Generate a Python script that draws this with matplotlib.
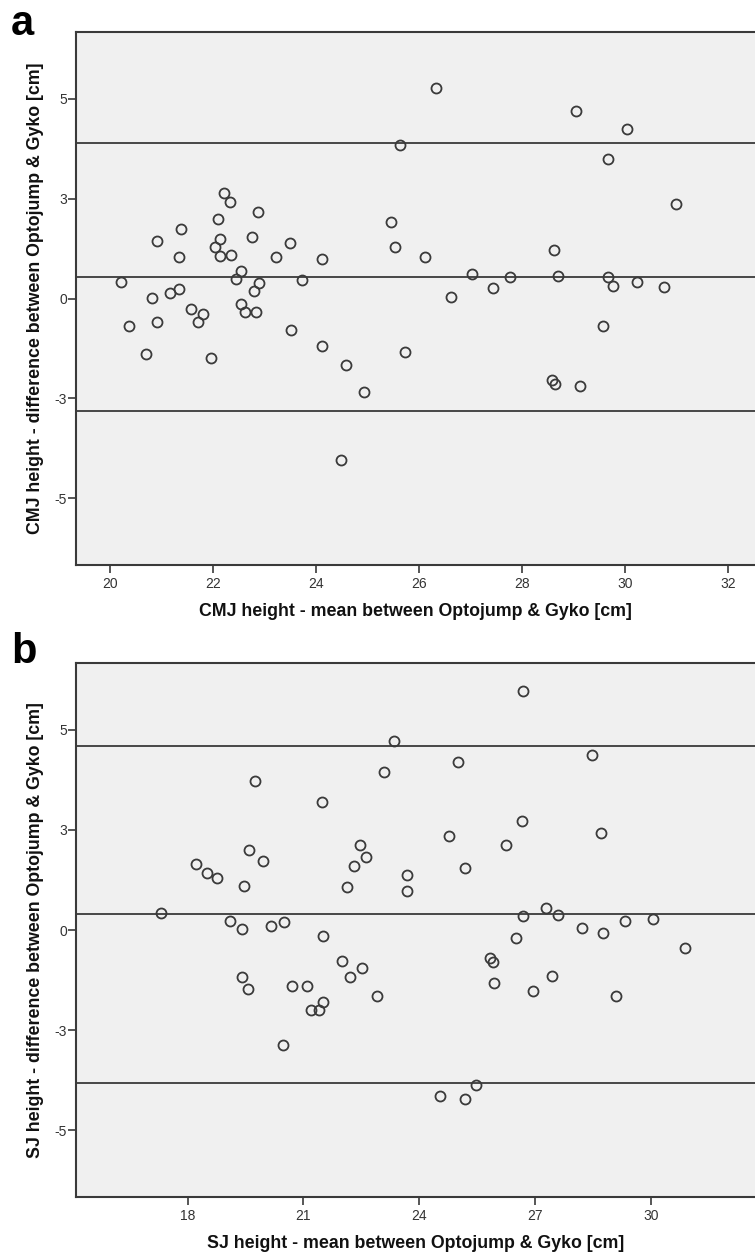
import matplotlib
matplotlib.use("Agg")
import matplotlib.pyplot as plt

plt.rcParams['font.family'] = ['Liberation Sans', 'DejaVu Sans']

# ---------------- Panel a: CMJ ----------------
cmj_mean = [20.21, 20.92, 21.38, 21.33, 20.81, 21.17, 21.33, 22.21, 22.32, 22.88,
            22.10, 22.14, 22.76, 23.49, 22.04, 22.14, 22.34, 23.22, 24.11, 22.54,
            22.44, 22.90, 23.73, 22.80, 21.57, 21.81, 22.54, 22.63, 22.83, 20.36,
            20.91, 20.70, 21.71, 21.96, 23.51, 24.11, 24.58, 24.93, 24.48, 26.33,
            25.63, 29.05, 30.03, 29.66, 30.98, 25.46, 25.54, 26.12, 28.61, 27.02,
            27.77, 28.69, 29.67, 29.77, 30.22, 30.76, 26.62, 27.43, 25.73, 29.56,
            28.58, 28.64, 29.13]
cmj_diff = [0.41, 1.44, 1.75, 1.04, 0.02, 0.13, 0.24, 2.63, 2.42, 2.17,
            2.00, 1.48, 1.53, 1.38, 1.28, 1.07, 1.08, 1.04, 1.00, 0.69,
            0.48, 0.40, 0.46, 0.18, -0.27, -0.38, -0.14, -0.34, -0.34, -0.69,
            -0.59, -1.39, -0.58, -1.48, -0.80, -1.19, -1.66, -2.35, -4.04, 5.26,
            3.85, 4.70, 4.25, 3.50, 2.36, 1.91, 1.28, 1.03, 1.21, 0.62,
            0.53, 0.57, 0.53, 0.32, 0.41, 0.30, 0.03, 0.26, -1.35, -0.69,
            -2.04, -2.15, -2.18]
cmj_lines = [3.89, 0.54, -2.81]   # upper LoA, mean bias, lower LoA
cmj_xticks = [20, 22, 24, 26, 28, 30, 32]
cmj_xlim = (19.34, 32.52)

# ---------------- Panel b: SJ ----------------
sj_mean = [17.30, 18.22, 18.51, 18.76, 19.45, 19.60, 19.95, 19.76, 21.49, 22.46,
           22.61, 22.30, 22.13, 19.10, 19.41, 20.15, 20.49, 21.50, 26.69, 23.36,
           23.08, 25.00, 28.48, 26.67, 28.72, 24.78, 26.26, 25.18, 23.69, 23.68,
           26.69, 27.28, 27.59, 28.23, 28.77, 29.33, 30.05, 19.41, 19.56, 20.70,
           21.10, 21.50, 21.19, 21.40, 20.46, 22.01, 22.20, 22.52, 22.90, 26.51,
           25.84, 25.90, 25.94, 26.94, 27.44, 29.09, 30.89, 24.54, 25.20, 25.46]
sj_diff = [0.42, 1.64, 1.42, 1.31, 1.11, 2.01, 1.72, 3.73, 3.20, 2.13,
           1.83, 1.61, 1.07, 0.23, 0.03, 0.11, 0.21, -0.15, 5.98, 4.72,
           3.95, 4.19, 4.36, 2.73, 2.43, 2.35, 2.12, 1.55, 1.38, 0.97,
           0.36, 0.55, 0.38, 0.05, -0.07, 0.23, 0.27, -1.17, -1.47, -1.39,
           -1.39, -1.79, -2.00, -2.00, -2.88, -0.78, -1.18, -0.96, -1.65, -0.20,
           -0.70, -0.81, -1.33, -1.53, -1.14, -1.65, -0.44, -4.15, -4.21, -3.88]
sj_lines = [4.60, 0.39, -3.81]
sj_xticks = [18, 21, 24, 27, 30]
sj_xlim = (15.11, 32.70)

# shared y axis
ytick_values = [5, 2.5, 0, -2.5, -5]
ytick_labels = ["5", "3", "0", "-3", "-5"]
ylim = (-6.67, 6.67)

W, H = 755, 1253
fig = plt.figure(figsize=(W / 100, H / 100), dpi=100)

dark = '#3a3a3a'
face = '#f0f0f0'

def px_axes(left, top, right, bottom):
    return [left / W, 1 - bottom / H, (right - left) / W, (bottom - top) / H]

panels = [
    dict(rect=px_axes(76, 32, 755, 565), x=cmj_mean, y=cmj_diff, lines=cmj_lines,
         xticks=cmj_xticks, xlim=cmj_xlim,
         xlabel="CMJ height - mean between Optojump & Gyko [cm]",
         ylabel="CMJ height - difference between Optojump & Gyko [cm]",
         letter="a", letter_pos=(11, 35)),
    dict(rect=px_axes(76, 663, 755, 1197), x=sj_mean, y=sj_diff, lines=sj_lines,
         xticks=sj_xticks, xlim=sj_xlim,
         xlabel="SJ height - mean between Optojump & Gyko [cm]",
         ylabel="SJ height - difference between Optojump & Gyko [cm]",
         letter="b", letter_pos=(11, 663)),
]

for p in panels:
    ax = fig.add_axes(p['rect'])
    ax.set_facecolor(face)
    for yv in p['lines']:
        ax.axhline(yv, color=dark, lw=1.3, zorder=2)
    ax.plot(p['x'], p['y'], linestyle='none', marker='o', markersize=7.2,
            markerfacecolor='none', markeredgecolor=dark, markeredgewidth=1.3,
            zorder=3, clip_on=False)
    ax.set_xlim(*p['xlim'])
    ax.set_ylim(*ylim)
    ax.set_xticks(p['xticks'])
    ax.set_xticklabels([str(t) for t in p['xticks']])
    ax.set_yticks(ytick_values)
    ax.set_yticklabels(ytick_labels)
    ax.tick_params(axis='both', direction='out', length=6, width=1.2, color=dark,
                   labelsize=10, labelcolor='#333333')
    ax.tick_params(axis='y', pad=0.5)
    ax.tick_params(axis='x', pad=2.5)
    for s in ['left', 'bottom', 'top']:
        ax.spines[s].set_color(dark)
        ax.spines[s].set_linewidth(1.5)
    ax.spines['right'].set_visible(False)
    ax.set_xlabel(p['xlabel'], fontsize=12.8, fontweight='bold', color='#111111',
                  va='center')
    ax.xaxis.set_label_coords(0.5, -46 / 533)
    ax.set_ylabel(p['ylabel'], fontsize=12.8, fontweight='bold', color='#111111',
                  va='center')
    ax.yaxis.set_label_coords(-40 / 679, 0.5)
    lx, ly = p['letter_pos']
    fig.text(lx / W, 1 - ly / H, p['letter'], fontsize=30, fontweight='bold',
             ha='left', va='baseline', color='black')

fig.savefig('out.png', dpi=100)
